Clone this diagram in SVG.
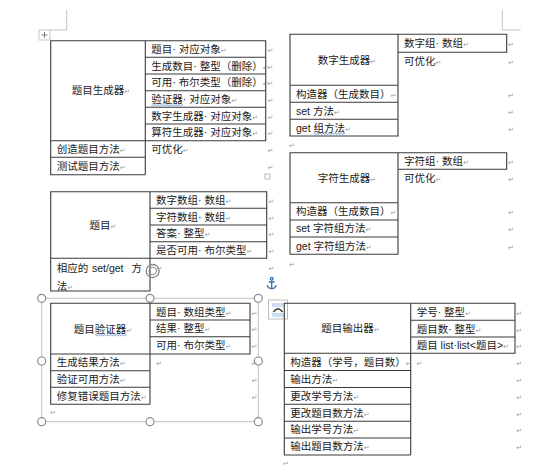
<svg xmlns="http://www.w3.org/2000/svg" width="554" height="473" viewBox="0 0 554 473">
<style>
.b{fill:none;stroke:#3a3a3a;stroke-width:1.1}
.t{font-family:"Liberation Sans","Noto Sans CJK SC",sans-serif;font-size:10.5px;fill:#1a1a1a}
.c{text-anchor:middle}
.p{font-family:"DejaVu Sans",sans-serif;font-size:7px;fill:#9a9a9a}
.m{fill:none;stroke:#c4c4c4;stroke-width:1}
.w{fill:none;stroke:#4a7bd0;stroke-width:0.8}
.h{fill:#fff;stroke:#8a8a8a;stroke-width:1.2}
</style>
<rect width="554" height="473" fill="#fff"/>
<g id="page-marks">
<path class="m" d="M66.7,10V30H50M502.3,10V30H520.7"/>
<rect x="39" y="30" width="11" height="10" fill="#fff" stroke="#c8c8c8"/>
<path d="M44.5,32V38M41.5,35H47.5" stroke="#666" stroke-width="0.8"/>
<rect x="265" y="174" width="5" height="5" fill="#fff" stroke="#aaa" stroke-width="0.8"/>
</g>
<g id="connectors"/>
<g id="tbl-question-generator">
<path class="b" d="M50.7,40.7H265.7V140.7H50.7ZM145.3,40.7V174.7M50.7,140.7V174.7H145.3M50.7,157.3H145.3M145.3,57.3H265.7M145.3,74H265.7M145.3,90.7H265.7M145.3,107.3H265.7M145.3,124H265.7"/>
<text class="t c" x="101" y="94.3">题目生成器<tspan class="p">↵</tspan></text>
<text class="t" x="151.3" y="52.8">题目· 对应对象<tspan class="p">↵</tspan></text>
<text class="t" x="151.3" y="69.5">生成数目· 整型（删除）<tspan class="p">↵</tspan></text>
<text class="t" x="151.3" y="86.1">可用· 布尔类型（删除）<tspan class="p">↵</tspan></text>
<text class="t" x="151.3" y="102.8">验证器· 对应对象<tspan class="p">↵</tspan></text>
<path class="w" d="M151.3,105.2q0.75,-1.2 1.5,0t1.5,0t1.5,0t1.5,0t1.5,0t1.5,0t1.5,0t1.5,0t1.5,0t1.5,0t1.5,0t1.5,0t1.5,0t1.5,0t1.5,0t1.5,0t1.5,0t1.5,0t1.5,0t1.5,0t1.5,0"/>
<text class="t" x="151.3" y="119.5">数字生成器· 对应对象<tspan class="p">↵</tspan></text>
<text class="t" x="151.3" y="136.1">算符生成器· 对应对象<tspan class="p">↵</tspan></text>
<text class="t" x="56.7" y="152.8">创造题目方法<tspan class="p">↵</tspan></text>
<text class="t" x="56.7" y="169.8">测试题目方法<tspan class="p">↵</tspan></text>
<text class="t" x="151.3" y="152.8">可优化<tspan class="p">↵</tspan></text>
<text class="p" x="267.5" y="52.8">↵</text><text class="p" x="267.5" y="69.5">↵</text><text class="p" x="267.5" y="86.1">↵</text><text class="p" x="267.5" y="102.8">↵</text><text class="p" x="267.5" y="119.5">↵</text><text class="p" x="267.5" y="136.1">↵</text><text class="p" x="267.5" y="152.8">↵</text><text class="p" x="267.5" y="169.8">↵</text>
</g>
<g id="tbl-number-generator">
<path class="b" d="M398,34.3H506.7V52.3H398M290,34.3H398V136H290ZM290,85.3H398M290,102.3H398M290,119.3H398"/>
<text class="t c" x="347" y="63.8">数字生成器<tspan class="p">↵</tspan></text>
<text class="t" x="404" y="47.1">数字组· 数组<tspan class="p">↵</tspan></text>
<text class="t" x="404" y="64.5">可优化<tspan class="p">↵</tspan></text>
<text class="t" x="296" y="97.6">构造器（生成数目）<tspan class="p">↵</tspan></text>
<text class="t" x="296" y="114.6">set 方法<tspan class="p">↵</tspan></text>
<text class="t" x="296" y="131.5">get 组方法<tspan class="p">↵</tspan></text>
<path class="w" d="M313.5,133.9q0.75,-1.2 1.5,0t1.5,0t1.5,0t1.5,0t1.5,0t1.5,0t1.5,0t1.5,0t1.5,0t1.5,0t1.5,0t1.5,0t1.5,0t1.5,0t1.5,0t1.5,0t1.5,0t1.5,0t1.5,0t1.5,0t1.5,0"/>
<text class="p" x="508" y="47.1">↵</text><text class="p" x="508" y="64.5">↵</text><text class="p" x="508" y="97.6">↵</text><text class="p" x="508" y="114.6">↵</text><text class="p" x="508" y="131.5">↵</text>
<text class="p" x="289" y="148">↵</text>
</g>
<g id="tbl-char-generator">
<path class="b" d="M398,152.7H506.7V169.3H398M290,152.7H398V254.3H290ZM290,202.7H398M290,220H398M290,237H398"/>
<text class="t c" x="347" y="181.5">字符生成器<tspan class="p">↵</tspan></text>
<text class="t" x="404" y="164.8">字符组· 数组<tspan class="p">↵</tspan></text>
<text class="t" x="404" y="182.1">可优化<tspan class="p">↵</tspan></text>
<text class="t" x="296" y="215.1">构造器（生成数目）<tspan class="p">↵</tspan></text>
<text class="t" x="296" y="232.3">set 字符组方法<tspan class="p">↵</tspan></text>
<text class="t" x="296" y="249.5">get 字符组方法<tspan class="p">↵</tspan></text>
<text class="p" x="508" y="164.8">↵</text><text class="p" x="508" y="182.1">↵</text><text class="p" x="508" y="215.1">↵</text><text class="p" x="508" y="232.3">↵</text><text class="p" x="508" y="249.5">↵</text>
<text class="p" x="289" y="267">↵</text>
</g>
<g id="tbl-question">
<path class="b" d="M50.7,191.7H266.7V258.3H50.7ZM150,191.7V291M50.7,258.3V291H150M150,208.3H266.7M150,225H266.7M150,241.7H266.7"/>
<text class="t c" x="103" y="228.8">题目<tspan class="p">↵</tspan></text>
<text class="t" x="156" y="203.8">数字数组· 数组<tspan class="p">↵</tspan></text>
<text class="t" x="156" y="220.5">字符数组· 数组<tspan class="p">↵</tspan></text>
<text class="t" x="156" y="237.1">答案· 整型<tspan class="p">↵</tspan></text>
<text class="t" x="156" y="253.8">是否可用· 布尔类型<tspan class="p">↵</tspan></text>
<text class="t" x="56.7" y="272.1">相应的<tspan x="92">set/get</tspan><tspan x="131.5">方</tspan><tspan x="56.7" y="289.8">法</tspan><tspan class="p">↵</tspan></text>
<circle cx="152.7" cy="271" r="6.5" fill="none" stroke="#8a8a8a" stroke-width="1.3"/>
<circle cx="152.7" cy="271" r="3.8" fill="none" stroke="#8a8a8a" stroke-width="1"/>
<text class="p" x="156.5" y="270.8">↵</text>
<text class="p" x="268.5" y="203.8">↵</text><text class="p" x="268.5" y="220.5">↵</text><text class="p" x="268.5" y="237.1">↵</text><text class="p" x="268.5" y="253.8">↵</text><text class="p" x="268.5" y="270.8">↵</text>
</g>
<g id="anchor-icon" fill="none" stroke="#3a6fb0" stroke-width="1.3">
<circle cx="271.7" cy="278.8" r="1.4"/>
<path d="M271.7,280.2V288.5M268.8,282H274.6M267.3,285.2Q268,288.6 271.7,288.6Q275.4,288.6 276.1,285.2"/>
</g>
<g id="selection-frame">
<rect class="m" x="41.7" y="298.3" width="216.6" height="123.4" stroke="#a8a8a8"/>
<circle class="h" cx="41.7" cy="298.3" r="4"/><circle class="h" cx="150" cy="298.3" r="4"/><circle class="h" cx="258.3" cy="298.3" r="4"/>
<circle class="h" cx="41.7" cy="361" r="4"/><circle class="h" cx="258.3" cy="361" r="4"/>
<circle class="h" cx="41.7" cy="421.7" r="4"/><circle class="h" cx="150" cy="421.7" r="4"/><circle class="h" cx="258.3" cy="421.7" r="4"/>
</g>
<g id="layout-icon">
<rect x="268.5" y="300" width="19" height="19" fill="#fff" stroke="#bdbdbd"/>
<path d="M272,304H284M272,306H284M272,314H284M272,316H284" stroke="#9dbde6" stroke-width="1"/>
<path d="M273.5,312Q278,305.5 282.5,312" fill="none" stroke="#333" stroke-width="1.4"/>
</g>
<g id="tbl-question-validator">
<path class="b" d="M50.7,303.3H250V354H50.7ZM150,303.3V404.3M50.7,354V404.3H150M50.7,370.7H150M50.7,387.3H150M150,320H250M150,336.7H250"/>
<text class="t c" x="103" y="332.5">题目验证器<tspan class="p">↵</tspan></text>
<path class="w" d="M95,335.2q0.75,-1.2 1.5,0t1.5,0t1.5,0t1.5,0t1.5,0t1.5,0t1.5,0t1.5,0t1.5,0t1.5,0t1.5,0t1.5,0t1.5,0t1.5,0t1.5,0t1.5,0t1.5,0t1.5,0t1.5,0t1.5,0t1.5,0"/>
<text class="t" x="156" y="315.5">题目· 数组类型<tspan class="p">↵</tspan></text>
<text class="t" x="156" y="332.1">结果· 整型<tspan class="p">↵</tspan></text>
<text class="t" x="156" y="349.1">可用· 布尔类型<tspan class="p">↵</tspan></text>
<text class="t" x="56.7" y="366.1">生成结果方法<tspan class="p">↵</tspan></text>
<text class="t" x="56.7" y="382.8">验证可用方法<tspan class="p">↵</tspan></text>
<text class="t" x="56.7" y="399.6">修复错误题目方法<tspan class="p">↵</tspan></text>
<text class="p" x="156" y="366.1">↵</text>
<text class="p" x="251.5" y="315.5">↵</text><text class="p" x="251.5" y="332.1">↵</text><text class="p" x="251.5" y="349.1">↵</text><text class="p" x="251.5" y="366.1">↵</text><text class="p" x="251.5" y="382.8">↵</text><text class="p" x="251.5" y="399.6">↵</text>
<text class="p" x="50" y="415">↵</text>
</g>
<g id="tbl-question-output">
<path class="b" d="M284.3,303.3H515V353.3H284.3ZM410.7,303.3V455M284.3,353.3V455H410.7M284.3,370.5H410.7M284.3,387.5H410.7M284.3,404.3H410.7M284.3,421.2H410.7M284.3,438H410.7M410.7,320.3H515M410.7,337H515"/>
<text class="t c" x="350.5" y="332.1">题目输出器<tspan class="p">↵</tspan></text>
<text class="t" x="416.7" y="315.6">学号· 整型<tspan class="p">↵</tspan></text>
<text class="t" x="416.7" y="332.5">题目数· 整型<tspan class="p">↵</tspan></text>
<text class="t" x="416.7" y="349">题目 list·list&lt;题目&gt;<tspan class="p">↵</tspan></text>
<text class="t" x="290.3" y="365.7">构造器（学号，题目数）<tspan class="p">↵</tspan></text>
<text class="t" x="290.3" y="382.8">输出方法<tspan class="p">↵</tspan></text>
<text class="t" x="290.3" y="399.7">更改学号方法<tspan class="p">↵</tspan></text>
<text class="t" x="290.3" y="416.6">更改题目数方法<tspan class="p">↵</tspan></text>
<text class="t" x="290.3" y="433.4">输出学号方法<tspan class="p">↵</tspan></text>
<text class="t" x="290.3" y="450.3">输出题目数方法<tspan class="p">↵</tspan></text>
<text class="p" x="416.5" y="365.7">↵</text>
<text class="p" x="516.2" y="315.6">↵</text><text class="p" x="516.2" y="332.5">↵</text><text class="p" x="516.2" y="349">↵</text><text class="p" x="516.2" y="365.7">↵</text><text class="p" x="516.2" y="382.8">↵</text><text class="p" x="516.2" y="399.7">↵</text><text class="p" x="516.2" y="416.6">↵</text><text class="p" x="516.2" y="433.4">↵</text><text class="p" x="516.2" y="450.3">↵</text>
<text class="p" x="283" y="466">↵</text>
</g>
</svg>
